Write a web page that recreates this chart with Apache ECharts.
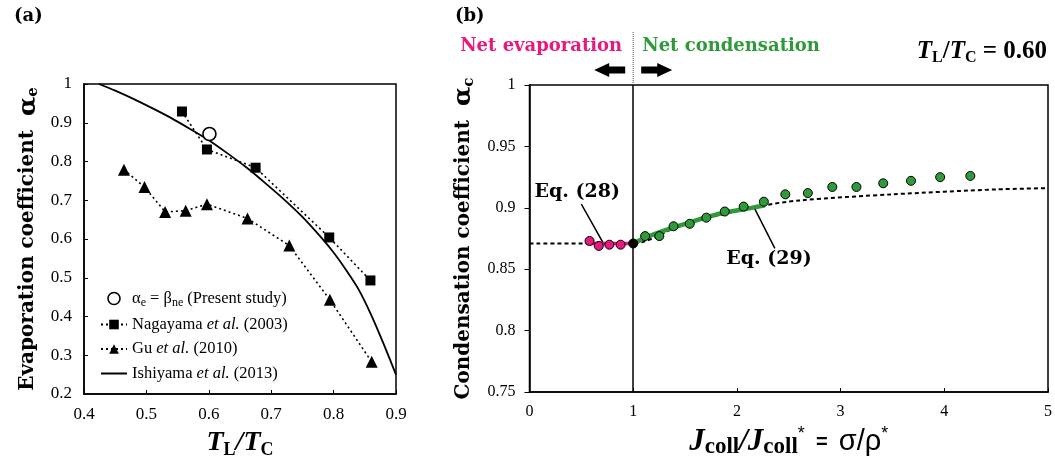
<!DOCTYPE html>
<html>
<head>
<meta charset="utf-8">
<script src="https://cdn.jsdelivr.net/npm/echarts@6/dist/echarts.min.js"></script>
<style>
  html, body { margin: 0; padding: 0; background: #fff; }
  #main { width: 1055px; height: 464px; }
</style>
</head>
<body>
<div id="main"></div>
<script>
// ---- panel (a): evaporation coefficient vs TL/TC ----
var presentStudy = [[0.601, 0.871]];
var nagayama = [[0.557, 0.929], [0.597, 0.831], [0.675, 0.784], [0.793, 0.604], [0.859, 0.493]];
var gu = [[0.464, 0.779], [0.497, 0.734], [0.530, 0.670], [0.563, 0.673], [0.597, 0.690],
          [0.662, 0.653], [0.729, 0.583], [0.794, 0.443], [0.861, 0.283]];
var ishiyama = [[0.424, 1.0], [0.45, 0.983], [0.48, 0.961], [0.51, 0.937], [0.54, 0.912], [0.57, 0.884],
                [0.60, 0.855], [0.63, 0.821], [0.66, 0.785], [0.69, 0.745], [0.72, 0.703], [0.75, 0.657],
                [0.78, 0.604], [0.80, 0.565], [0.82, 0.52], [0.84, 0.47], [0.86, 0.405], [0.88, 0.33], [0.9, 0.25]];
var legendNames = ['Present study', 'Nagayama et al. (2003)', 'Gu et al. (2010)', 'Ishiyama et al. (2013)'];

// ---- panel (b): condensation coefficient vs Jcoll/Jcoll* ----
var evapPoints = [[0.579, 0.873], [0.668, 0.869], [0.770, 0.870], [0.879, 0.870]];
var equilPoint = [[1.0, 0.871]];
var condPoints = [[1.115, 0.877], [1.252, 0.877], [1.389, 0.885], [1.545, 0.887], [1.705, 0.892],
                  [1.883, 0.897], [2.065, 0.901], [2.260, 0.905], [2.467, 0.911], [2.684, 0.912],
                  [2.920, 0.917], [3.153, 0.917], [3.411, 0.920], [3.679, 0.922], [3.960, 0.925], [4.251, 0.926]];
var eq28Curve = [[0.58, 0.871], [1.0, 0.871]];
var eq29Curve = [[1.0, 0.871], [1.185, 0.878], [1.504, 0.887], [1.823, 0.895], [2.142, 0.900], [2.27, 0.902]];
var modelDotted = [[0, 0.871], [0.6, 0.871], [1.0, 0.871], [1.5, 0.887], [2.27, 0.902],
                   [2.6, 0.906], [3.5, 0.911], [4.5, 0.915], [5, 0.916]];
var eq28Leader = [[0.50, 0.903], [0.706, 0.872]];
var eq29Leader = [[2.174, 0.899], [2.366, 0.867]];

var serif = 'Liberation Serif';
var wide = 'DejaVu Serif';
var pink = '#e8197d';
var green = '#2e9a3a';

var chart = echarts.init(document.getElementById('main'));

var legendText = {
  'Present study': '{t|α}{s|e}{t| = β}{s|ne}{t| (Present study)}',
  'Nagayama et al. (2003)': '{t|Nagayama }{i|et al.}{t| (2003)}',
  'Gu et al. (2010)': '{t|Gu }{i|et al.}{t| (2010)}',
  'Ishiyama et al. (2013)': '{t|Ishiyama }{i|et al.}{t| (2013)}'
};

var option = {
  animation: false,
  backgroundColor: '#fff',
  grid: [
    { left: 84, top: 84, width: 312, height: 312, show: true, borderColor: '#000', borderWidth: 1.5 },
    { left: 529.5, top: 85, width: 522, height: 313, show: true, borderColor: '#000', borderWidth: 1.5 }
  ],
  xAxis: [{
    gridIndex: 0, type: 'value', min: 0.4, max: 0.9, interval: 0.1,
    axisLine: { lineStyle: { color: '#000', width: 1.5 } },
    axisTick: { inside: true, length: 4, lineStyle: { color: '#000' } },
    splitLine: { show: false },
    axisLabel: { color: '#000', fontFamily: serif, fontSize: 17, margin: 12 },
    name: '{t|T}{s|L}{t|/T}{s|C}', nameLocation: 'middle', nameGap: 33,
    nameTextStyle: { rich: {
      t: { fontFamily: serif, fontSize: 28, fontWeight: 'bold', fontStyle: 'italic', color: '#000', lineHeight: 32 },
      s: { fontFamily: serif, fontSize: 18, fontWeight: 'bold', color: '#000', verticalAlign: 'bottom', lineHeight: 18 }
    } }
  }, {
    gridIndex: 1, type: 'value', min: 0, max: 5, interval: 1,
    axisLine: { lineStyle: { color: '#000', width: 1.5 } },
    axisTick: { inside: true, length: 4, lineStyle: { color: '#000' } },
    splitLine: { show: false },
    axisLabel: { color: '#000', fontFamily: serif, fontSize: 16, margin: 12 },
    name: '{j|J}{c|coll}{j|/J}{c|coll}{p|*}{e|  =  }{g|σ/ρ}{p|*}', nameLocation: 'middle', nameGap: 31,
    nameTextStyle: { rich: {
      j: { fontFamily: serif, fontSize: 31, fontWeight: 'bold', fontStyle: 'italic', color: '#000', lineHeight: 34 },
      c: { fontFamily: serif, fontSize: 23, fontWeight: 'bold', color: '#000', verticalAlign: 'bottom', lineHeight: 22 },
      p: { fontFamily: 'Liberation Sans', fontSize: 18, color: '#000', verticalAlign: 'top', lineHeight: 18 },
      e: { fontFamily: 'Liberation Sans', fontSize: 20, fontWeight: 'bold', color: '#000' },
      g: { fontFamily: 'Liberation Sans', fontSize: 29, color: '#000' }
    } }
  }],
  yAxis: [{
    gridIndex: 0, type: 'value', min: 0.2, max: 1, interval: 0.1,
    axisLine: { lineStyle: { color: '#000', width: 1.5 } },
    axisTick: { inside: true, length: 4, lineStyle: { color: '#000' } },
    splitLine: { show: false },
    axisLabel: { color: '#000', fontFamily: serif, fontSize: 17, margin: 12,
      formatter: function (v) { return String(+v.toFixed(2)); } },
    name: '{t|Evaporation coefficient  }{a|α}{s|e}', nameLocation: 'middle', nameGap: 43, nameRotate: 90,
    nameTextStyle: { rich: {
      t: { fontFamily: wide, fontSize: 20, fontWeight: 'bold', color: '#000', lineHeight: 26 },
      a: { fontFamily: wide, fontSize: 25, fontWeight: 'bold', color: '#000', lineHeight: 26 },
      s: { fontFamily: wide, fontSize: 15, fontWeight: 'bold', color: '#000', verticalAlign: 'bottom', lineHeight: 15 }
    } }
  }, {
    gridIndex: 1, type: 'value', min: 0.75, max: 1, interval: 0.05,
    axisLine: { lineStyle: { color: '#000', width: 1.5 } },
    axisTick: { inside: false, length: 5, lineStyle: { color: '#000' } },
    splitLine: { show: false },
    axisLabel: { color: '#000', fontFamily: serif, fontSize: 16, margin: 14,
      formatter: function (v) { return String(+v.toFixed(2)); } },
    name: '{t|Condensation coefficient  }{a|α}{s|c}', nameLocation: 'middle', nameGap: 53, nameRotate: 90,
    nameTextStyle: { rich: {
      t: { fontFamily: wide, fontSize: 20, fontWeight: 'bold', color: '#000', lineHeight: 26 },
      a: { fontFamily: wide, fontSize: 25, fontWeight: 'bold', color: '#000', lineHeight: 26 },
      s: { fontFamily: wide, fontSize: 15, fontWeight: 'bold', color: '#000', verticalAlign: 'bottom', lineHeight: 15 }
    } }
  }],
  legend: {
    data: [
      { name: legendNames[0], icon: 'circle', itemStyle: { color: '#fff', borderColor: '#000', borderWidth: 1.6 } },
      { name: legendNames[1] },
      { name: legendNames[2] },
      { name: legendNames[3], itemStyle: { opacity: 0 } }
    ],
    orient: 'vertical', left: 95, top: 285,
    itemWidth: 26, itemHeight: 12, itemGap: 7.5,
    inactiveColor: '#000',
    formatter: function (name) { return legendText[name]; },
    textStyle: { color: '#000', rich: {
      t: { fontFamily: serif, fontSize: 16.5, color: '#000', lineHeight: 20 },
      i: { fontFamily: serif, fontSize: 16.5, fontStyle: 'italic', color: '#000', lineHeight: 20 },
      s: { fontFamily: serif, fontSize: 12, color: '#000', verticalAlign: 'bottom', lineHeight: 12 }
    } }
  },
  series: [
    // panel (a)
    { name: 'Ishiyama et al. (2013)', type: 'line', xAxisIndex: 0, yAxisIndex: 0, data: ishiyama,
      smooth: 0.2, symbol: 'none', lineStyle: { color: '#000', width: 1.8 }, itemStyle: { color: '#000' } },
    { name: 'Nagayama et al. (2003)', type: 'line', xAxisIndex: 0, yAxisIndex: 0, data: nagayama,
      symbol: 'rect', symbolSize: 10, lineStyle: { color: '#000', width: 1.6, type: [2, 3] },
      itemStyle: { color: '#000' } },
    { name: 'Gu et al. (2010)', type: 'line', xAxisIndex: 0, yAxisIndex: 0, data: gu,
      symbol: 'triangle', symbolSize: 12, lineStyle: { color: '#000', width: 1.6, type: [2, 3] },
      itemStyle: { color: '#000' } },
    { name: 'Present study', type: 'scatter', xAxisIndex: 0, yAxisIndex: 0, data: presentStudy,
      symbol: 'circle', symbolSize: 13, itemStyle: { color: '#fff', borderColor: '#000', borderWidth: 1.6, opacity: 1 }, z: 5 },
    // panel (b)
    { name: 'model', type: 'line', xAxisIndex: 1, yAxisIndex: 1, data: modelDotted, smooth: 0.3,
      symbol: 'none', lineStyle: { color: '#000', width: 2, type: [4, 3] },
      markLine: { silent: true, symbol: 'none', label: { show: false },
        lineStyle: { color: '#000', width: 1.5, type: 'solid' }, data: [{ xAxis: 1 }] } },
    { name: 'eq28', type: 'line', xAxisIndex: 1, yAxisIndex: 1, data: eq28Curve,
      symbol: 'none', lineStyle: { color: pink, width: 3.5 }, z: 3 },
    { name: 'eq29', type: 'line', xAxisIndex: 1, yAxisIndex: 1, data: eq29Curve, smooth: 0.4,
      symbol: 'none', lineStyle: { color: green, width: 4.5 }, z: 3 },
    { name: 'lead28', type: 'line', xAxisIndex: 1, yAxisIndex: 1, data: eq28Leader,
      symbol: 'none', lineStyle: { color: '#000', width: 1.5 }, z: 4 },
    { name: 'lead29', type: 'line', xAxisIndex: 1, yAxisIndex: 1, data: eq29Leader,
      symbol: 'none', lineStyle: { color: '#000', width: 1.5 }, z: 4 },
    { name: 'evap', type: 'scatter', xAxisIndex: 1, yAxisIndex: 1, data: evapPoints,
      symbolSize: 9, itemStyle: { color: pink, borderColor: '#000', borderWidth: 1, opacity: 1 }, z: 6 },
    { name: 'cond', type: 'scatter', xAxisIndex: 1, yAxisIndex: 1, data: condPoints,
      symbolSize: 9, itemStyle: { color: green, borderColor: '#000', borderWidth: 1, opacity: 1 }, z: 6 },
    { name: 'equil', type: 'scatter', xAxisIndex: 1, yAxisIndex: 1, data: equilPoint,
      symbolSize: 9, itemStyle: { color: '#000', borderColor: '#000', borderWidth: 1, opacity: 1 }, z: 6 }
  ]
};
chart.setOption(option);

// annotations placed relative to the axis scales
var p1 = chart.convertToPixel({ xAxisIndex: 1, yAxisIndex: 1 }, [1, 1]);
var ax = p1[0], topY = p1[1];
var arrowY = 70;
var eq28Pos = chart.convertToPixel({ xAxisIndex: 1, yAxisIndex: 1 }, [0.46, 0.913]);
var eq29Pos = chart.convertToPixel({ xAxisIndex: 1, yAxisIndex: 1 }, [2.31, 0.8586]);

chart.setOption({
  graphic: [
    { type: 'text', left: 14, top: 7, style: { text: '(a)', font: 'bold 18px "DejaVu Serif"', fill: '#000' } },
    { type: 'text', left: 455, top: 7, style: { text: '(b)', font: 'bold 18px "DejaVu Serif"', fill: '#000' } },
    { type: 'line', shape: { x1: ax, y1: 32, x2: ax, y2: topY }, style: { stroke: '#555', lineWidth: 1, lineDash: [1, 1] } },
    { type: 'text', x: ax - 11, y: 46, style: { text: 'Net evaporation', font: 'bold 18px "DejaVu Serif"', fill: pink, textAlign: 'right', textVerticalAlign: 'middle' } },
    { type: 'text', x: ax + 9, y: 46, style: { text: 'Net condensation', font: 'bold 18px "DejaVu Serif"', fill: green, textAlign: 'left', textVerticalAlign: 'middle' } },
    { type: 'polygon', shape: { points: [[ax - 39, arrowY], [ax - 24, arrowY - 7], [ax - 24, arrowY - 3.5], [ax - 8, arrowY - 3.5],
        [ax - 8, arrowY + 3.5], [ax - 24, arrowY + 3.5], [ax - 24, arrowY + 7]] }, style: { fill: '#000' } },
    { type: 'polygon', shape: { points: [[ax + 39, arrowY], [ax + 24, arrowY - 7], [ax + 24, arrowY - 3.5], [ax + 8, arrowY - 3.5],
        [ax + 8, arrowY + 3.5], [ax + 24, arrowY + 3.5], [ax + 24, arrowY + 7]] }, style: { fill: '#000' } },
    { type: 'text', x: 1047, y: 52, style: {
        text: '{t|T}{s|L}{n|/}{t|T}{s|C}{n| = 0.60}', textAlign: 'right', textVerticalAlign: 'middle',
        rich: {
          t: { fontFamily: serif, fontSize: 25, fontWeight: 'bold', fontStyle: 'italic', fill: '#000', lineHeight: 28 },
          n: { fontFamily: serif, fontSize: 25, fontWeight: 'bold', fill: '#000', lineHeight: 28 },
          s: { fontFamily: serif, fontSize: 16, fontWeight: 'bold', fill: '#000', verticalAlign: 'bottom', lineHeight: 16 }
        } } },
    { type: 'text', x: eq28Pos[0], y: eq28Pos[1], style: { text: 'Eq. (28)', font: 'bold 19px "DejaVu Serif"', fill: '#000', textAlign: 'center', textVerticalAlign: 'middle' } },
    { type: 'text', x: eq29Pos[0], y: eq29Pos[1], style: { text: 'Eq. (29)', font: 'bold 19px "DejaVu Serif"', fill: '#000', textAlign: 'center', textVerticalAlign: 'middle' } }
  ]
});
</script>
</body>
</html>
